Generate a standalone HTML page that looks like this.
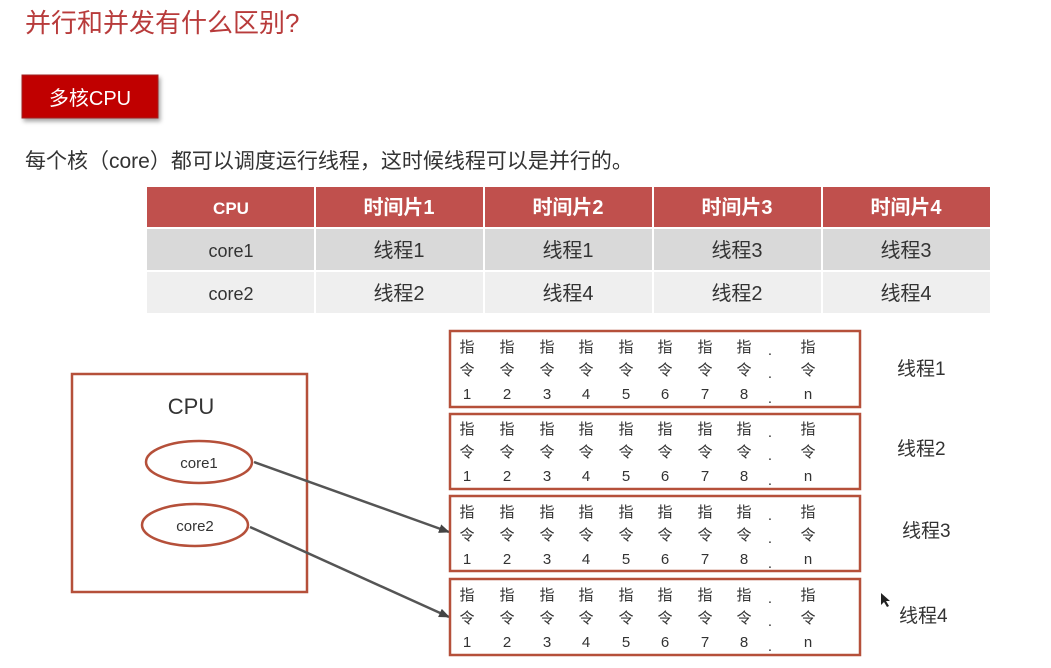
<!DOCTYPE html>
<html><head><meta charset="utf-8"><style>
html,body{margin:0;padding:0;background:#fff;}
svg{display:block;font-family:"Liberation Sans","Noto Sans CJK SC",sans-serif;}
</style></head><body>
<svg width="1051" height="668" viewBox="0 0 1051 668" xmlns="http://www.w3.org/2000/svg">
<defs>
<marker id="ah" markerWidth="11" markerHeight="9" refX="10" refY="4.5" orient="auto" markerUnits="userSpaceOnUse"><path d="M0,0 L11,4.5 L0,9 Z" fill="#444"/></marker>
<filter id="sh" x="-10%" y="-10%" width="130%" height="140%"><feDropShadow dx="2" dy="3" stdDeviation="2" flood-color="#000" flood-opacity="0.35"/></filter>
</defs>
<text x="25" y="32" font-size="26" fill="#b83b3b">并行和并发有什么区别?</text>
<rect x="22" y="75" width="136" height="43" fill="#c00000" stroke="#a02020" filter="url(#sh)"/>
<text x="90" y="105" font-size="20" fill="#fff" text-anchor="middle">多核CPU</text>
<text x="25" y="168" font-size="21" fill="#333">每个核（core）都可以调度运行线程，这时候线程可以是并行的。</text>

<rect x="147" y="187" width="843" height="40" fill="#c0504d"/>
<rect x="147" y="229" width="843" height="41" fill="#d9d9d9"/>
<rect x="147" y="272" width="843" height="41" fill="#efefef"/>
<g stroke="#fff" stroke-width="2">
<line x1="315" y1="187" x2="315" y2="313"/><line x1="484" y1="187" x2="484" y2="313"/>
<line x1="653" y1="187" x2="653" y2="313"/><line x1="822" y1="187" x2="822" y2="313"/>
</g>
<g font-size="20" text-anchor="middle">
<g fill="#fff" font-weight="bold">
<text x="231" y="214" font-size="17">CPU</text><text x="399" y="214">时间片1</text><text x="568" y="214">时间片2</text><text x="737" y="214">时间片3</text><text x="906" y="214">时间片4</text>
</g>
<g fill="#333">
<text x="231" y="257" font-size="18">core1</text><text x="399" y="257">线程1</text><text x="568" y="257">线程1</text><text x="737" y="257">线程3</text><text x="906" y="257">线程3</text>
<text x="231" y="300" font-size="18">core2</text><text x="399" y="300">线程2</text><text x="568" y="300">线程4</text><text x="737" y="300">线程2</text><text x="906" y="300">线程4</text>
</g>
</g>

<rect x="72" y="374" width="235" height="218" fill="none" stroke="#b5503a" stroke-width="2.5"/>
<text x="191" y="414" font-size="22" fill="#333" text-anchor="middle">CPU</text>
<ellipse cx="199" cy="462" rx="53" ry="21" fill="#fff" stroke="#b5503a" stroke-width="2.5"/>
<ellipse cx="195" cy="525" rx="53" ry="21" fill="#fff" stroke="#b5503a" stroke-width="2.5"/>
<text x="199" y="468" font-size="15" fill="#333" text-anchor="middle">core1</text>
<text x="195" y="531" font-size="15" fill="#333" text-anchor="middle">core2</text>
<line x1="254" y1="462" x2="449" y2="532" stroke="#555" stroke-width="2.5" marker-end="url(#ah)"/>
<line x1="250" y1="527" x2="449" y2="617" stroke="#555" stroke-width="2.5" marker-end="url(#ah)"/>

<g fill="none" stroke="#b5503a" stroke-width="2.5">
<rect x="450" y="331" width="410" height="76"/>
<rect x="450" y="414" width="410" height="75"/>
<rect x="450" y="496" width="410" height="75"/>
<rect x="450" y="579" width="410" height="76"/>
</g>
<g font-size="15" fill="#333" text-anchor="middle">
<g id="b1">
<text x="467 507 547 586 626 665 705 744 808" y="352">指指指指指指指指指</text>
<text x="467 507 547 586 626 665 705 744 808" y="375">令令令令令令令令令</text>
<text x="467 507 547 586 626 665 705 744 808" y="399">12345678n</text>
<text x="770" y="355">.</text><text x="770" y="378">.</text><text x="770" y="403">.</text>
</g>
<use href="#b1" y="82"/>
<use href="#b1" y="165"/>
<use href="#b1" y="248"/>
</g>
<g font-size="19" fill="#333">
<text x="897" y="375">线程1</text>
<text x="897" y="455">线程2</text>
<text x="902" y="537">线程3</text>
<text x="899" y="622">线程4</text>
</g>
<path d="M881,593 L881,605 L884,602 L887,607 L889,606 L886,601 L890,601 Z" fill="#222"/>
</svg>
</body></html>
